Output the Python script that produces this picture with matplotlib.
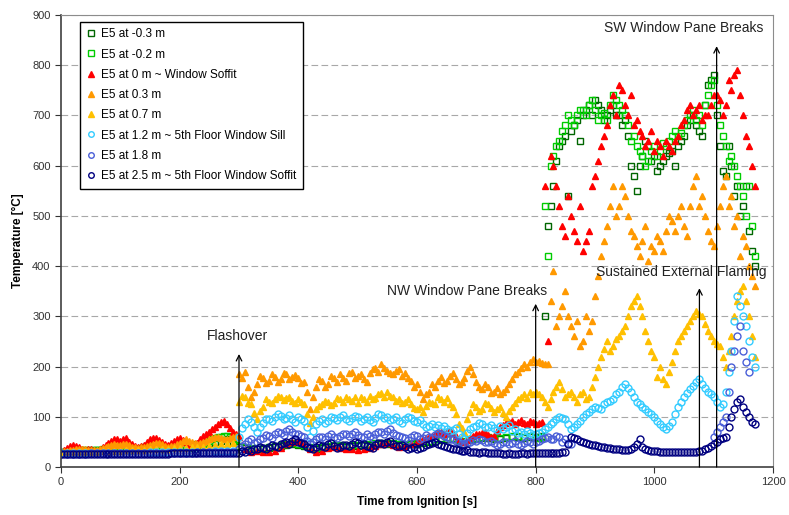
import matplotlib
matplotlib.use('Agg')
import matplotlib.pyplot as plt

plt.rcParams['font.family'] = ['Liberation Sans', 'DejaVu Sans']

# sample times (s): main readings every 10 s, in-between readings at the 5 s marks
time_s = list(range(0, 1171, 10))
time_blue = list(range(0, 861, 10)) + [1100, 1110, 1120, 1130, 1140, 1150, 1160]
t_pre_h = list(range(5, 296, 10))
t_mid_h = list(range(305, 796, 10))
t_late_h = list(range(805, 1166, 10))
t_red_mid_h = list(range(605, 796, 10))
t_blue_h = list(range(305, 796, 10)) + [805, 815, 825, 835, 845, 855] + [1105, 1115, 1125, 1135, 1145, 1155]

# temperatures [deg C]
e5_m03 = ([30, 30, 31, 31, 32, 32, 33, 33, 34, 34, 35, 35, 36, 36, 37, 37, 38, 38, 39, 40,
           40, 42, 44, 46, 45, 48, 50, 52, 55, 50]
          + [40, 38, 36, 35, 36, 38, 40, 42, 44, 45, 44, 42, 38, 36, 38, 40, 42, 42, 40, 41,
             42, 43, 44, 45, 46, 46, 45, 44, 44, 45, 46, 48, 50, 52, 54, 56, 55, 52, 50, 54,
             56, 58, 57, 55, 56, 58, 60, 60, 58, 60]
          + [60, 62, 480, 560, 640, 660, 670, 690, 700, 720, 730, 710, 700, 720, 700, 690, 600, 550, 620, 640,
             620, 600, 620, 630, 640, 660, 690, 680, 660, 760, 780, 640, 580, 600, 560, 520, 470, 400])
e5_m03_h = [60, 300, 520, 610, 650, 540, 680, 650, 710, 700, 720, 690, 710, 700, 680, 660, 580, 600, 650, 610,
            590, 610, 625, 600, 650, 680, 700, 670, 720, 770, 700, 590, 640, 540, 500, 560, 430]

e5_m02 = ([30, 31, 32, 32, 33, 33, 34, 35, 38, 40, 36, 35, 34, 36, 40, 42, 38, 36, 37, 40,
           42, 40, 38, 40, 46, 52, 58, 60, 62, 58]
          + [42, 40, 38, 37, 38, 40, 42, 44, 46, 47, 46, 44, 40, 38, 40, 42, 44, 44, 42, 43,
             44, 45, 46, 47, 48, 48, 47, 46, 46, 47, 48, 50, 52, 55, 58, 60, 58, 54, 52, 56,
             58, 60, 59, 57, 58, 60, 62, 62, 60, 62]
          + [58, 60, 420, 620, 650, 680, 690, 700, 710, 720, 710, 700, 690, 740, 720, 700, 650, 640, 620, 610,
             640, 630, 640, 660, 660, 680, 700, 690, 680, 740, 770, 680, 640, 620, 580, 540, 560, 420])
e5_m02_h = ([30, 31, 32, 33, 33, 34, 34, 36, 39, 38, 35, 34, 35, 38, 41, 40, 37, 36, 38, 41,
             41, 39, 39, 43, 49, 55, 59, 61, 60, 56]
            + [58, 520, 600, 640, 670, 700, 680, 710, 700, 730, 690, 705, 720, 730, 710, 680, 660, 630, 600, 630,
               620, 645, 650, 670, 665, 690, 710, 700, 720, 760, 720, 660, 610, 600, 560, 500, 480])

e5_0 = ([30, 38, 44, 40, 34, 36, 32, 40, 48, 55, 52, 58, 45, 40, 44, 55, 58, 50, 44, 52,
         58, 50, 40, 48, 62, 70, 80, 90, 85, 70]
        + [60, 35, 30, 32, 30, 30, 32, 38, 45, 50, 52, 48, 35, 30, 32, 38, 40, 38, 35, 36,
           34, 36, 38, 42, 46, 48, 44, 40, 42, 45, 50, 55, 60, 65, 70, 72, 68, 55, 50, 58,
           65, 68, 64, 62, 80, 88, 92, 90, 88, 92]
        + [85, 90, 250, 600, 520, 460, 500, 450, 430, 470, 580, 640, 680, 740, 760, 720, 740, 690, 660, 650,
           630, 640, 650, 630, 660, 690, 720, 710, 690, 700, 740, 730, 720, 750, 790, 700, 640, 560])
e5_0_h = ([34, 42, 42, 36, 35, 34, 36, 44, 52, 56, 55, 50, 42, 42, 50, 58, 54, 46, 48, 56,
           54, 44, 44, 55, 66, 76, 86, 92, 78, 65]
          + [52, 58, 62, 68, 66, 74, 62, 52, 54, 62, 66, 70, 60, 72, 84, 90, 86, 94, 86, 90]
          + [88, 560, 620, 560, 480, 540, 470, 520, 450, 560, 610, 660, 720, 700, 750, 700, 680, 670, 640, 670,
             650, 620, 640, 650, 680, 710, 700, 720, 700, 720, 740, 700, 770, 780, 740, 660, 600])

e5_03 = ([30, 32, 34, 36, 35, 33, 34, 38, 42, 45, 44, 46, 40, 38, 40, 44, 48, 45, 40, 42,
          48, 55, 50, 45, 50, 55, 60, 58, 55, 60]
         + [185, 190, 140, 165, 178, 172, 180, 176, 185, 180, 178, 170, 115, 160, 172, 165, 178, 185, 172, 190,
            182, 176, 188, 198, 205, 192, 185, 196, 188, 172, 165, 135, 150, 160, 180, 172, 188, 165, 178, 200,
            170, 155, 160, 150, 145, 155, 175, 190, 205, 210]
         + [210, 208, 205, 390, 300, 350, 280, 290, 250, 270, 340, 420, 480, 560, 520, 540, 470, 440, 450, 410,
            430, 450, 470, 490, 500, 480, 520, 580, 540, 470, 440, 520, 580, 540, 500, 460, 400, 360])
e5_03_h = ([31, 33, 35, 36, 34, 33, 36, 40, 44, 44, 45, 43, 39, 39, 42, 46, 47, 42, 41, 45,
            52, 52, 48, 48, 52, 58, 59, 56, 58, 62]
           + [178, 160, 150, 182, 168, 185, 170, 188, 176, 184, 168, 150, 140, 175, 160, 182, 170, 178, 188, 178,
              186, 170, 195, 190, 198, 188, 192, 182, 178, 160, 150, 145, 165, 172, 168, 182, 175, 170, 192, 185,
              160, 165, 148, 158, 150, 165, 185, 198, 200, 215]
           + [212, 206, 330, 280, 320, 300, 260, 240, 300, 290, 380, 450, 520, 500, 560, 500, 460, 420, 480, 440,
              460, 430, 500, 470, 520, 460, 560, 520, 500, 450, 480, 560, 520, 480, 420, 440, 380])

e5_07 = ([28, 28, 29, 29, 30, 30, 30, 31, 31, 32, 32, 33, 33, 34, 34, 35, 35, 36, 36, 37,
          38, 38, 39, 40, 40, 42, 44, 45, 46, 48]
         + [130, 140, 125, 95, 120, 130, 135, 140, 138, 132, 135, 125, 88, 115, 125, 130, 128, 135, 140, 132,
            128, 135, 142, 138, 148, 150, 140, 135, 130, 125, 115, 110, 130, 125, 135, 138, 120, 85, 70, 110,
            120, 115, 125, 110, 120, 100, 120, 135, 145, 150]
         + [150, 140, 120, 150, 170, 140, 150, 130, 150, 140, 180, 220, 250, 240, 260, 280, 320, 340, 300, 250,
            220, 200, 165, 210, 250, 270, 290, 310, 300, 270, 250, 240, 200, 260, 330, 360, 300, 220])
e5_07_h = ([142, 128, 108, 112, 135, 128, 142, 134, 140, 128, 130, 105, 100, 122, 132, 124, 138, 130, 136, 140,
            140, 130, 136, 146, 140, 142, 132, 128, 136, 118, 120, 122, 128, 140, 130, 125, 105, 78, 95, 125,
            112, 128, 118, 115, 108, 112, 128, 140, 138, 145]
           + [145, 130, 135, 160, 155, 145, 140, 145, 135, 160, 200, 235, 230, 255, 270, 300, 330, 320, 270, 230,
              180, 175, 190, 230, 260, 280, 300, 305, 285, 260, 245, 220, 230, 300, 350, 330, 260])

e5_12 = ([27, 27, 27, 27, 27, 27, 27, 28, 28, 28, 28, 28, 28, 28, 28, 29, 29, 29, 29, 29,
          29, 30, 30, 30, 30, 30, 31, 31, 31, 32]
         + [60, 85, 90, 70, 88, 95, 100, 102, 98, 95, 100, 92, 60, 85, 95, 92, 98, 100, 95, 98,
            100, 96, 94, 98, 104, 100, 96, 92, 95, 98, 90, 85, 82, 80, 78, 76, 74, 65, 55, 75,
            82, 85, 80, 78, 82, 80, 72, 68, 66, 68]
         + [65, 70, 80, 90, 100, 95, 75, 85, 100, 110, 120, 115, 130, 135, 150, 165, 150, 130, 120, 110,
            100, 85, 75, 90, 120, 140, 155, 170, 165, 150, 140, 120, 150, 230, 340, 300, 250, 200])
e5_12_h = ([78, 95, 80, 80, 96, 92, 105, 96, 104, 90, 95, 80, 72, 92, 88, 100, 94, 104, 92, 102,
            92, 100, 90, 105, 98, 94, 100, 88, 100, 92, 94, 80, 86, 84, 82, 72, 78, 60, 68, 80,
            88, 80, 84, 74, 76, 84, 76, 70, 72, 64]
           + [68, 75, 85, 95, 98, 85, 80, 92, 105, 115, 118, 125, 132, 145, 160, 158, 140, 125, 115, 105,
              92, 80, 82, 105, 130, 148, 162, 175, 158, 145, 130, 125, 190, 290, 320, 280, 220])

e5_18 = ([26, 26, 26, 26, 26, 27, 27, 27, 27, 27, 27, 27, 27, 27, 27, 28, 28, 28, 28, 28,
          28, 28, 28, 29, 29, 29, 29, 29, 30, 30]
         + [35, 45, 55, 50, 58, 62, 65, 68, 72, 70, 66, 60, 45, 55, 60, 62, 60, 62, 65, 66,
            64, 60, 62, 65, 70, 72, 68, 62, 58, 60, 62, 58, 60, 64, 66, 60, 55, 50, 45, 50,
            52, 54, 50, 48, 46, 50, 48, 46, 48, 50]
         + [50, 55, 60, 55, 60, 55, 45]
         + [60, 80, 100, 200, 260, 230, 190])
e5_18_h = ([42, 52, 48, 56, 64, 58, 70, 64, 75, 66, 62, 52, 50, 60, 56, 66, 58, 66, 62, 70,
            60, 66, 58, 70, 66, 76, 64, 60, 54, 64, 56, 64, 58, 68, 62, 56, 52, 46, 48, 54,
            56, 50, 52, 44, 50, 46, 52, 44, 52, 46]
           + [52, 58, 56, 62, 50, 48]
           + [70, 90, 150, 230, 280, 210])

e5_25 = ([25, 25, 25, 26, 26, 26, 26, 26, 26, 26, 26, 26, 26, 26, 26, 26, 26, 26, 26, 27,
          27, 27, 27, 27, 27, 27, 27, 27, 27, 28]
         + [28, 30, 32, 35, 38, 40, 42, 45, 50, 52, 50, 45, 38, 40, 42, 45, 42, 40, 44, 46,
            48, 45, 40, 44, 48, 50, 46, 42, 40, 38, 36, 40, 46, 50, 44, 40, 36, 34, 32, 30,
            30, 29, 28, 27, 27, 26, 26, 26, 27, 28]
         + [28, 28, 27, 27, 28, 30, 60, 55, 50, 46, 43, 40, 38, 36, 35, 34, 35, 45, 40, 33,
            32, 30, 30, 29, 29, 29, 30, 30, 32, 38, 45, 55, 60, 100, 130, 120, 100, 85])
e5_25_h = ([25, 25, 26, 26, 26, 26, 26, 26, 26, 26, 26, 26, 26, 26, 26, 26, 26, 26, 27, 27,
            27, 27, 27, 27, 27, 27, 27, 27, 28, 28]
           + [32, 34, 36, 40, 36, 44, 40, 48, 46, 56, 48, 40, 36, 44, 40, 48, 38, 44, 42, 50,
              44, 42, 38, 48, 46, 52, 42, 44, 36, 40, 38, 44, 48, 46, 42, 38, 35, 32, 34, 30,
              28, 30, 27, 28, 26, 27, 25, 27, 26, 28]
           + [28, 27, 27, 28, 29, 45, 58, 52, 48, 44, 42, 39, 37, 35, 34, 34, 40, 55, 36, 32,
              31, 30, 29, 29, 29, 30, 30, 31, 35, 42, 50, 58, 80, 115, 135, 110, 90])

labels = ['E5 at -0.3 m', 'E5 at -0.2 m', 'E5 at 0 m ~ Window Soffit', 'E5 at 0.3 m',
          'E5 at 0.7 m', 'E5 at 1.2 m ~ 5th Floor Window Sill', 'E5 at 1.8 m',
          'E5 at 2.5 m ~ 5th Floor Window Soffit']

fig = plt.figure(figsize=(7.89, 5.15), dpi=100)
ax = fig.add_axes([61 / 789, 48 / 515, 712 / 789, 452 / 515])

ms = 5
ax.plot(time_s + t_late_h, e5_m03 + e5_m03_h, 's', ms=ms, mfc='none', mec='#006600', mew=1.0,
        label=labels[0])
ax.plot(time_s + t_pre_h + t_late_h, e5_m02 + e5_m02_h, 's', ms=ms, mfc='none', mec='#00CC00',
        mew=1.0, label=labels[1])
ax.plot(time_s + t_pre_h + t_red_mid_h + t_late_h, e5_0 + e5_0_h, '^', ms=ms, color='#FF0000',
        label=labels[2])
ax.plot(time_s + t_pre_h + t_mid_h + t_late_h, e5_03 + e5_03_h, '^', ms=ms, color='#FF9900',
        label=labels[3])
ax.plot(time_s + t_mid_h + t_late_h, e5_07 + e5_07_h, '^', ms=ms, color='#FFC000', label=labels[4])
ax.plot(time_s + t_mid_h + t_late_h, e5_12 + e5_12_h, 'o', ms=ms, mfc='none', mec='#33CCFF',
        mew=1.0, label=labels[5])
ax.plot(time_blue + t_blue_h, e5_18 + e5_18_h, 'o', ms=ms, mfc='none', mec='#4A5FD8', mew=1.0,
        label=labels[6])
ax.plot(time_s + t_pre_h + t_mid_h + t_late_h, e5_25 + e5_25_h, 'o', ms=ms, mfc='none',
        mec='#000080', mew=1.0, label=labels[7])

# event arrows
arrow = dict(arrowstyle='->', color='black', lw=0.9, shrinkA=0, shrinkB=0)
ax.annotate('', xy=(300, 225), xytext=(300, 0), arrowprops=arrow)
ax.annotate('', xy=(800, 325), xytext=(800, 0), arrowprops=arrow)
ax.annotate('', xy=(1076, 356), xytext=(1076, 0), arrowprops=arrow)
ax.annotate('', xy=(1105, 838), xytext=(1105, 0), arrowprops=arrow)
ax.text(297, 261, 'Flashover', ha='center', va='center', fontsize=10, color='#222222')
ax.text(685, 350, 'NW Window Pane Breaks', ha='center', va='center', fontsize=10, color='#222222')
ax.text(1046, 388, 'Sustained External Flaming', ha='center', va='center', fontsize=10, color='#222222')
ax.text(1050, 874, 'SW Window Pane Breaks', ha='center', va='center', fontsize=10, color='#222222')

ax.set_xlim(0, 1200)
ax.set_ylim(0, 900)
ax.set_xticks(range(0, 1201, 200))
ax.set_yticks(range(0, 901, 100))
ax.tick_params(labelsize=8, length=4, direction='out', colors='#333333')
ax.set_xlabel('Time from Ignition [s]', fontsize=8.5, fontweight='bold', labelpad=6)
ax.set_ylabel('Temperature [°C]', fontsize=8.5, fontweight='bold', labelpad=6)

ax.yaxis.grid(True, linestyle=(0, (6, 3)), color='#A8A8A8', lw=0.8)
ax.set_axisbelow(True)
for side in ['top', 'right']:
    ax.spines[side].set_color('#8C8C8C')
for side in ['left', 'bottom']:
    ax.spines[side].set_color('#404040')
    ax.spines[side].set_linewidth(1.2)

leg = ax.legend(loc='upper left', bbox_to_anchor=(0.027, 0.985), fontsize=8.5, frameon=True,
                fancybox=False, edgecolor='black', framealpha=1, labelspacing=0.7,
                handlelength=0.8, handletextpad=0.4, borderpad=0.55, markerscale=0.8,
                borderaxespad=0)
leg.get_frame().set_linewidth(1.0)

fig.savefig('out.png', dpi=100)
